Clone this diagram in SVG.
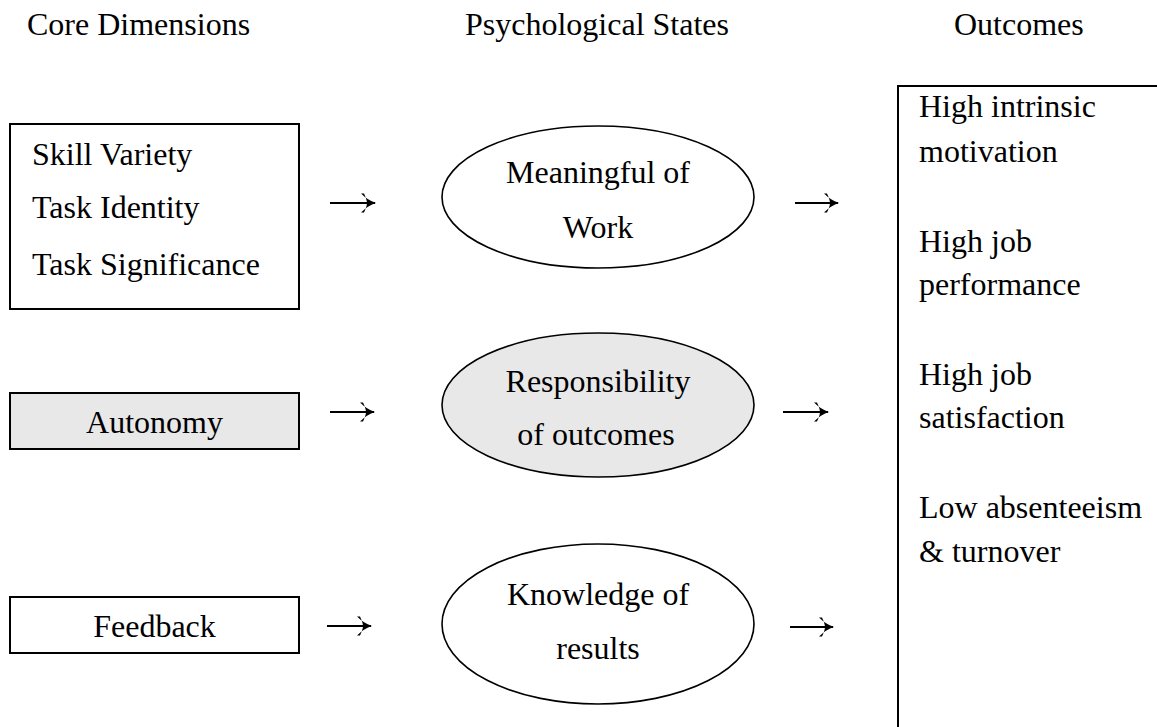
<svg xmlns="http://www.w3.org/2000/svg" width="1157" height="727" viewBox="0 0 1157 727">
<style>
text{font-family:"Liberation Serif","Times New Roman",serif;font-size:32px;fill:#000}
.c{text-anchor:middle}
.box{fill:#fff;stroke:#000;stroke-width:2}
.ell{fill:#fff;stroke:#000;stroke-width:1.6}
.box.grey,.ell.grey{fill:#e8e8e8}
.conn{stroke:#000;stroke-width:2.2;fill:none;marker-end:url(#ah)}
</style>
<defs>
<marker id="ah" markerWidth="18" markerHeight="22" refX="15" refY="11" orient="auto" markerUnits="userSpaceOnUse">
<path d="M1,1.5 Q8,8.5 16,11 Q8,13.5 1,20.5 L4,20.5 Q7,14 7,11 Q7,8 4,1.5 Z" fill="#000"/>
</marker>
</defs>
<rect width="1157" height="727" fill="#fff"/>
<g id="headers">
<text x="27" y="35">Core Dimensions</text>
<text x="465" y="35">Psychological States</text>
<text x="954" y="35">Outcomes</text>
</g>
<g id="core-skill">
<rect class="box" x="10" y="124" width="289" height="185"/>
<text x="32" y="165">Skill Variety</text>
<text x="32" y="218">Task Identity</text>
<text x="32" y="275">Task Significance</text>
</g>
<g id="core-autonomy">
<rect class="box grey" x="10" y="393" width="289" height="56"/>
<text class="c" x="154.5" y="433">Autonomy</text>
</g>
<g id="core-feedback">
<rect class="box" x="10" y="597" width="289" height="56"/>
<text class="c" x="154.5" y="637">Feedback</text>
</g>
<g id="state-meaning">
<ellipse class="ell" cx="598" cy="197" rx="156" ry="71"/>
<text class="c" x="598" y="183">Meaningful of</text>
<text class="c" x="598" y="238">Work</text>
</g>
<g id="state-responsibility">
<ellipse class="ell grey" cx="598" cy="405" rx="156" ry="72"/>
<text class="c" x="598" y="392">Responsibility</text>
<text class="c" x="596" y="445">of outcomes</text>
</g>
<g id="state-knowledge">
<ellipse class="ell" cx="598" cy="624" rx="156" ry="80"/>
<text class="c" x="598" y="605">Knowledge of</text>
<text class="c" x="598" y="659">results</text>
</g>
<g id="outcomes">
<rect class="box" x="898" y="86" width="280" height="680"/>
<text x="919" y="117">High intrinsic</text>
<text x="919" y="162">motivation</text>
<text x="919" y="252">High job</text>
<text x="919" y="295">performance</text>
<text x="919" y="385">High job</text>
<text x="919" y="428">satisfaction</text>
<text x="919" y="518">Low absenteeism</text>
<text x="919" y="562">&amp; turnover</text>
</g>
<g id="connectors">
<line class="conn" x1="330" y1="203" x2="375" y2="203"/>
<line class="conn" x1="330" y1="412" x2="374" y2="412"/>
<line class="conn" x1="327" y1="626" x2="371" y2="626"/>
<line class="conn" x1="795" y1="203" x2="838" y2="203"/>
<line class="conn" x1="783" y1="412" x2="828" y2="412"/>
<line class="conn" x1="790" y1="627" x2="833" y2="627"/>
</g>
</svg>
